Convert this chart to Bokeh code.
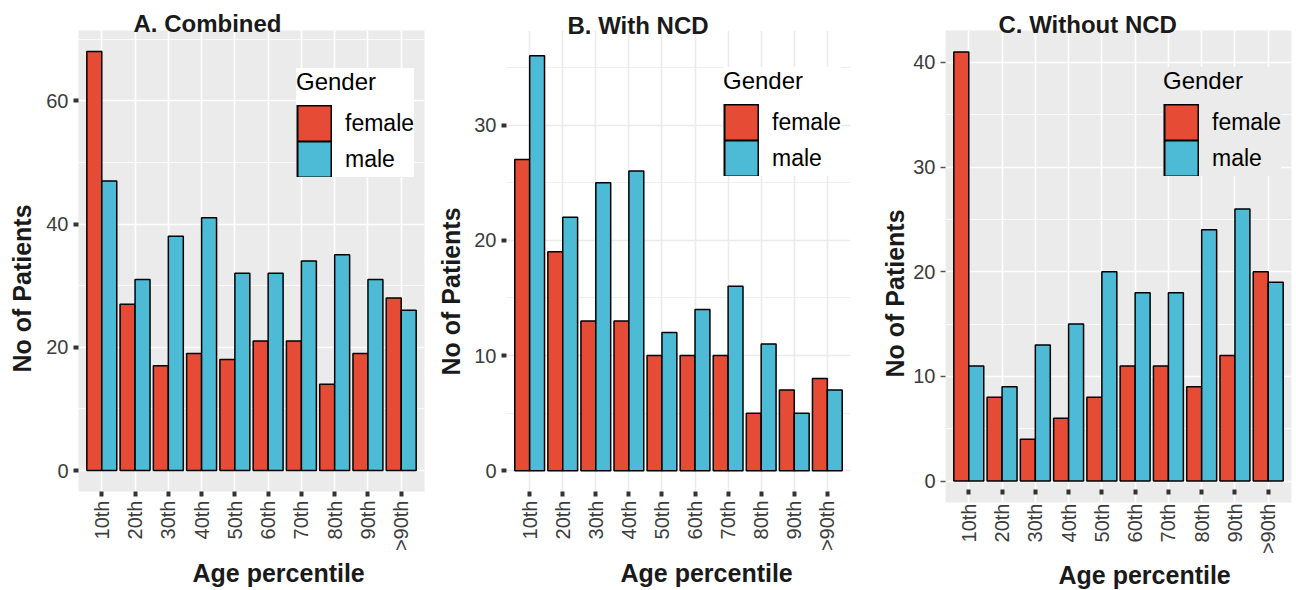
import math
from bokeh.plotting import figure
from bokeh.models import (ColumnDataSource, FactorRange, Range1d, SingleIntervalTicker,
                          Legend, LegendItem, Title)
from bokeh.transform import dodge
from bokeh.layouts import row
from bokeh.embed import file_html
from bokeh.resources import INLINE

# ---------------- data ----------------
percentiles = ["10th", "20th", "30th", "40th", "50th", "60th", "70th", "80th", "90th", ">90th"]
genders = ["female", "male"]

combined_female = [68, 27, 17, 19, 18, 21, 21, 14, 19, 28]
combined_male = [47, 31, 38, 41, 32, 32, 34, 35, 31, 26]

with_ncd_female = [27, 19, 13, 13, 10, 10, 10, 5, 7, 8]
with_ncd_male = [36, 22, 25, 26, 12, 14, 16, 11, 5, 7]

without_ncd_female = [41, 8, 4, 6, 8, 11, 11, 9, 12, 20]
without_ncd_male = [11, 9, 13, 15, 20, 18, 18, 24, 26, 19]

# y-axis limits as shown in each panel
y_limits_combined = (-3.4, 71.4)
y_limits_with_ncd = (-1.8, 38.2)
y_limits_without_ncd = (-2.05, 43.05)
y_tick_steps = (20, 10, 10)

titles = ["A. Combined", "B. With NCD", "C. Without NCD"]
x_title = "Age percentile"
y_title = "No of Patients"
legend_title = "Gender"

# ---------------- style ----------------
FONT = "Liberation Sans"
COLORS = {"female": "#E64B35", "male": "#4DBBD5"}


def panel(title, female, male, ylim, tick_step, fw, fh, bl, bt, br, bb,
          bg, grid, leg_bg, leg_loc, title_off, title_so, xlab_off, xlab_so,
          ylab_off, ylab_so, c_style=False):
    src = ColumnDataSource(dict(cat=percentiles, female=female, male=male))
    p = figure(
        x_range=FactorRange(factors=percentiles, range_padding=0.2,
                            range_padding_units="absolute"),
        y_range=Range1d(*ylim),
        frame_width=fw, frame_height=fh,
        min_border_left=bl, min_border_top=bt, min_border_right=br, min_border_bottom=bb,
        output_backend="svg", toolbar_location=None, title=None,
        background_fill_color=bg, border_fill_color="white", outline_line_color=None,
    )
    for g, shift in zip(genders, (-0.225, 0.225)):
        p.vbar(x=dodge("cat", shift, range=p.x_range), top=g, width=0.45,
               source=src, fill_color=COLORS[g], line_color="black", line_width=1.5)

    p.yaxis.ticker = SingleIntervalTicker(interval=tick_step, num_minor_ticks=2)
    p.xgrid.grid_line_color = grid
    p.xgrid.grid_line_width = 1.6
    p.ygrid.grid_line_color = grid
    p.ygrid.grid_line_width = 1.6
    p.ygrid.minor_grid_line_color = grid
    p.ygrid.minor_grid_line_width = 0.8

    for ax in (p.xaxis[0], p.yaxis[0]):
        ax.axis_line_color = None
        ax.major_tick_line_color = "#333333"
        ax.major_tick_line_width = 4
        ax.major_tick_in = 0
        ax.major_tick_out = 5
        ax.minor_tick_line_color = None
        ax.major_label_text_font = FONT
        ax.major_label_text_font_size = "20px"
        ax.major_label_text_color = "#3C3C3C"
        ax.major_label_standoff = 5
    p.xaxis.major_label_standoff = 4
    p.xaxis.major_label_orientation = math.pi / 2
    if c_style:
        p.yaxis.major_tick_line_width = 1.5
        p.yaxis.major_tick_line_color = "#555555"
        p.xaxis.major_tick_in = 13
        p.xaxis.major_tick_out = -8
        p.xaxis.major_label_standoff = 1

    # legend keys: full-size filled squares with black border (proxy renderers, nothing drawn)
    items = []
    for g in genders:
        proxy = ColumnDataSource(dict(x=[percentiles[0]], y=[float("nan")]))
        edge = p.line("x", "y", source=proxy, line_color="black", line_width=37,
                      line_cap="butt")
        fill = p.line("x", "y", source=proxy, line_color=COLORS[g], line_width=34,
                      line_cap="butt", line_dash="0 2 32 200")
        items.append(LegendItem(label=g, renderers=[edge, fill]))

    legend = Legend(
        items=items, location=leg_loc, title=legend_title,
        title_text_font=FONT, title_text_font_size="24px", title_text_color="black",
        title_text_font_style="normal",
        label_text_font=FONT, label_text_font_size="23px", label_text_color="black",
        glyph_width=36, glyph_height=36, spacing=0, padding=10, margin=0,
        label_standoff=13, title_standoff=9,
        background_fill_color=leg_bg, background_fill_alpha=1.0, border_line_color=None,
    )
    p.add_layout(legend)

    p.add_layout(Title(text=title, align="left", offset=title_off, standoff=title_so,
                       text_font=FONT, text_font_size="24px", text_font_style="bold",
                       text_color="#1A1A1A"), "above")
    p.add_layout(Title(text=x_title, align="left", offset=xlab_off, standoff=xlab_so,
                       text_font=FONT, text_font_size="25px", text_font_style="bold",
                       text_color="#1A1A1A"), "below")
    p.add_layout(Title(text=y_title, align="left", offset=ylab_off, standoff=ylab_so,
                       vertical_align="top",
                       text_font=FONT, text_font_size="25px", text_font_style="bold",
                       text_color="#1A1A1A"), "left")
    return p


pA = panel(titles[0], combined_female, combined_male, y_limits_combined, y_tick_steps[0],
           346, 461, 78, 30, 6, 96,
           "#EBEBEB", "white", "white", (218, 314),
           55, -12, 114, 4, 119, 11)
pB = panel(titles[1], with_ncd_female, with_ncd_male, y_limits_with_ncd, y_tick_steps[1],
           344, 461, 76, 30, 30, 96,
           "white", "#EBEBEB", "white", (217, 315),
           61, -16, 114, 4, 116, 9)
pC = panel(titles[2], without_ncd_female, without_ncd_male, y_limits_without_ncd, y_tick_steps[2],
           346, 472, 64, 30, 3, 86,
           "#EBEBEB", "white", "#EBEBEB", (218, 326),
           53, -14, 113, 2, 125, 0, c_style=True)

layout = row(pA, pB, pC, spacing=0)
open("out.html", "w").write(file_html(layout, INLINE))
